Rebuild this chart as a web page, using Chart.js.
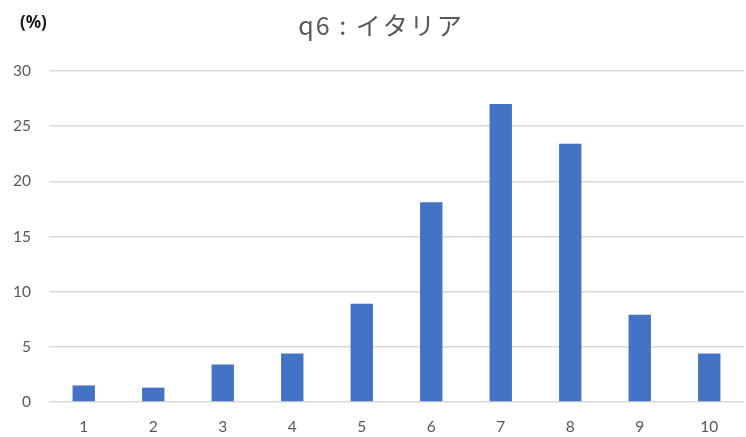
<!DOCTYPE html>
<html>
<head>
<meta charset="utf-8">
<script src="https://cdn.jsdelivr.net/npm/chart.js@4/dist/chart.umd.min.js"></script>
<style>
  html, body { margin: 0; padding: 0; background: #ffffff; }
  #wrap { width: 746px; height: 437px; position: relative; }
</style>
</head>
<body>
<div id="wrap"><canvas id="c" width="746" height="437"></canvas></div>
<script>
// Response scores 1–10 and share of respondents (%)
const categories = ['1', '2', '3', '4', '5', '6', '7', '8', '9', '10'];
const shares = [1.5, 1.3, 3.4, 4.4, 8.9, 18.1, 27.0, 23.4, 7.9, 4.4];
const yTicks = [0, 5, 10, 15, 20, 25, 30];
const titleText = 'q6 : イタリア';
const unitText = '(%)';

const tickFont = { family: 'Lato, "Noto Sans", sans-serif', size: 15.5 };
const tickColor = '#595959';

// Title and unit label drawn above the plot area
const headerPlugin = {
  id: 'header',
  afterDraw(chart) {
    const ctx = chart.ctx;
    ctx.save();
    ctx.fillStyle = '#595959';
    ctx.font = '25px "Noto Sans CJK JP", "Noto Sans", sans-serif';
    ctx.letterSpacing = '2px';
    ctx.textAlign = 'center';
    ctx.textBaseline = 'middle';
    ctx.fillText(titleText, 381, 25);
    ctx.letterSpacing = '0px';
    ctx.fillStyle = '#1a1a1a';
    ctx.font = 'bold 17px "Noto Sans", sans-serif';
    ctx.textAlign = 'left';
    ctx.fillText(unitText, 20, 23);
    ctx.restore();
  }
};

new Chart(document.getElementById('c'), {
  type: 'bar',
  data: {
    labels: categories,
    datasets: [{
      data: shares,
      backgroundColor: '#4472c4',
      borderWidth: 0,
      categoryPercentage: 1,
      barPercentage: 0.322
    }]
  },
  options: {
    responsive: false,
    animation: false,
    layout: { padding: { top: 71, right: 2, bottom: 0, left: 0 } },
    plugins: {
      legend: { display: false },
      tooltip: { enabled: false },
      title: { display: false }
    },
    scales: {
      x: {
        grid: { display: false, drawTicks: false },
        border: { display: false },
        ticks: { color: tickColor, font: tickFont, padding: 16, maxRotation: 0 },
        afterFit(scale) { scale.height = 35; }
      },
      y: {
        min: 0,
        max: 30,
        afterBuildTicks(scale) { scale.ticks = yTicks.map(v => ({ value: v })); },
        grid: { color: '#d9d9d9', lineWidth: 1.5, drawTicks: false },
        border: { display: false },
        ticks: { color: tickColor, font: tickFont, padding: 18 },
        afterFit(scale) { scale.width = 49; }
      }
    }
  },
  plugins: [headerPlugin]
});
</script>
</body>
</html>
